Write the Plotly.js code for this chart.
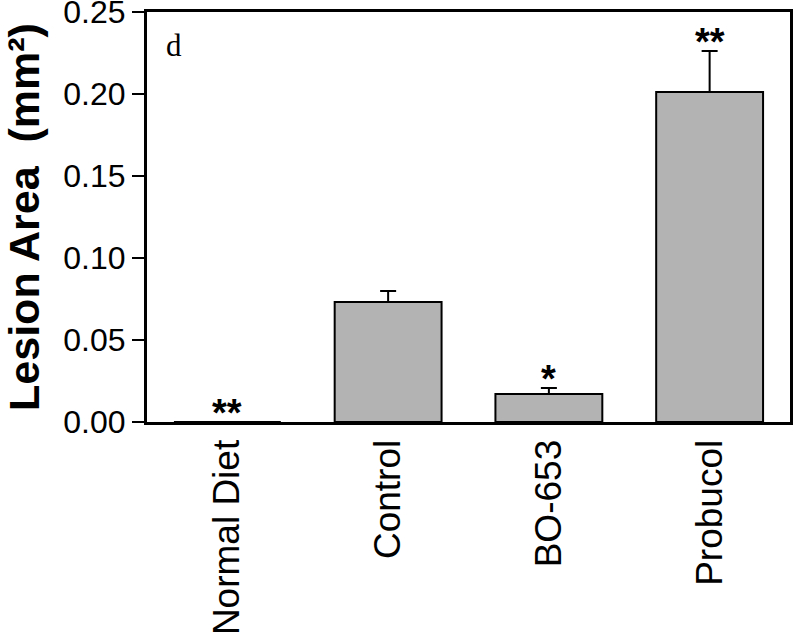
<!DOCTYPE html>
<html>
<head>
<meta charset="utf-8">
<script src="https://cdn.plot.ly/plotly-3.0.1.min.js"></script>
<style>html,body{margin:0;padding:0;background:#fff;}</style>
</head>
<body>
<div id="chart" style="width:800px;height:644px;"></div>
<script>
const categories = ["Normal Diet", "Control", "BO-653", "Probucol"];
const lesionArea = [0.0, 0.0732, 0.0171, 0.2012];
const errorUpper = [0.0, 0.0067, 0.0036, 0.025];
const significance = ["**", "", "*", "**"];
const yTicks = [0, 0.05, 0.10, 0.15, 0.20, 0.25];
const yTickLabels = ["0.00", "0.05", "0.10", "0.15", "0.20", "0.25"];

const trace = {
  type: "bar",
  x: categories,
  y: lesionArea,
  width: 0.665,
  marker: { color: "#b3b3b3", line: { color: "#000", width: 2 } },
  error_y: {
    type: "data",
    symmetric: false,
    array: errorUpper,
    arrayminus: lesionArea.map(() => 0),
    color: "#000",
    thickness: 2,
    width: 8
  },
  hoverinfo: "none"
};

const annotations = categories.map((c, i) => ({
  x: c, xref: "x",
  y: lesionArea[i] + errorUpper[i], yref: "y",
  text: "<b>" + significance[i] + "</b>",
  showarrow: false,
  yanchor: "bottom",
  yshift: -14,
  font: { family: "Liberation Sans, Arial, sans-serif", size: 38, color: "#000" }
})).filter((a, i) => significance[i] !== "");

annotations.push({
  x: 0.027, xref: "paper", y: 0.965, yref: "paper",
  xanchor: "left", yanchor: "top",
  text: "d", showarrow: false,
  font: { family: "Liberation Serif, Times New Roman, serif", size: 31, color: "#000" }
});

const layout = {
  width: 800, height: 644,
  margin: { l: 147, r: 10, t: 12, b: 222 },
  paper_bgcolor: "#fff", plot_bgcolor: "#fff",
  showlegend: false,
  font: { family: "Liberation Sans, Arial, sans-serif", color: "#000" },
  xaxis: {
    type: "category",
    showline: true, linecolor: "#000", linewidth: 3, mirror: true,
    ticks: "", tickangle: -90,
    tickfont: { size: 37, color: "#000" },
    showgrid: false, zeroline: false,
    range: [-0.5, 3.5]
  },
  yaxis: {
    range: [0, 0.25],
    showline: true, linecolor: "#000", linewidth: 3, mirror: true,
    ticks: "outside", ticklen: 12, tickwidth: 2, tickcolor: "#000",
    tickvals: yTicks, ticktext: yTickLabels,
    ticklabeloverflow: "allow",
    tickfont: { size: 32, color: "#000" },
    showgrid: false, zeroline: false,
    title: {
      text: "<b>Lesion Area  (mm²)</b>",
      font: { size: 43, color: "#000" },
      standoff: 18
    }
  },
  annotations: annotations
};

Plotly.newPlot("chart", [trace], layout, { displayModeBar: false, staticPlot: true });
</script>
</body>
</html>
